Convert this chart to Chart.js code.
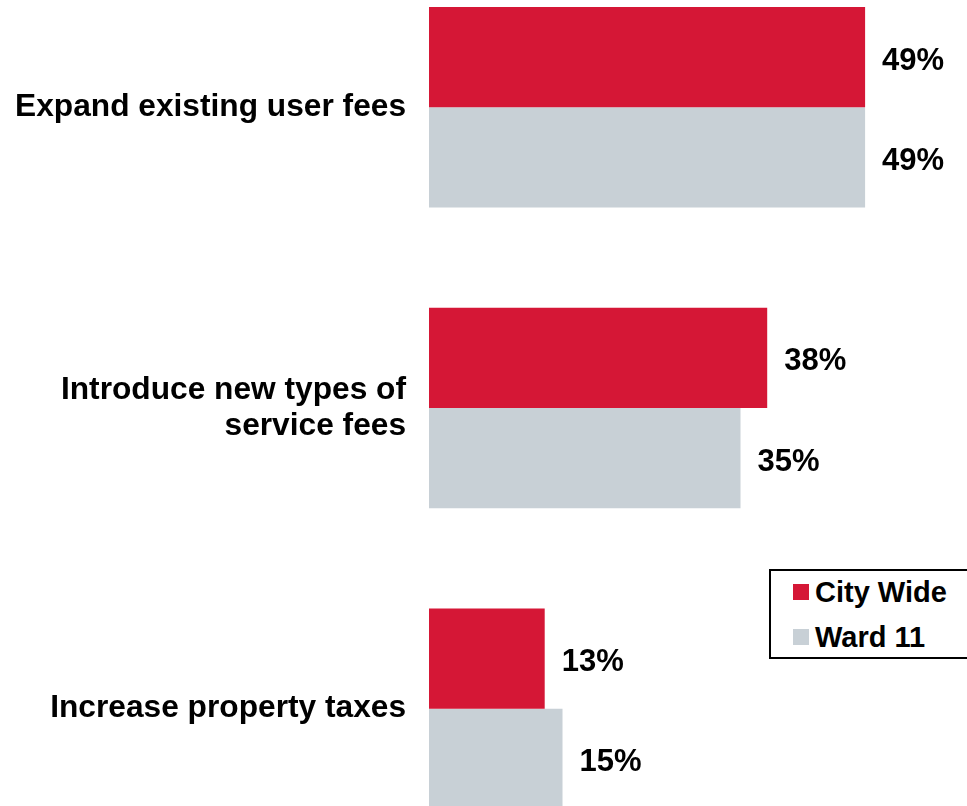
<!DOCTYPE html>
<html>
<head>
<meta charset="utf-8">
<script src="https://cdn.jsdelivr.net/npm/chart.js@4/dist/chart.umd.min.js"></script>
<style>
  html, body { margin:0; padding:0; background:#fff; overflow:hidden; width:967px; height:806px; }
  #wrap { position:absolute; left:0; top:-43px; width:967px; height:902px; }
  #legend { position:absolute; left:769px; top:569px; width:230px; height:86px; border:2px solid #000; background:#fff;
            font-family:"Liberation Sans", Arial, sans-serif; font-weight:bold; font-size:29px; color:#000; }
  .item { position:absolute; left:22px; height:34px; line-height:34px; white-space:nowrap; }
  .sw { display:inline-block; width:16px; height:16px; vertical-align:middle; margin-right:6px; position:relative; top:-2px; }
</style>
</head>
<body>
<div id="wrap"><canvas id="c" width="967" height="902"></canvas></div>
<div id="legend"></div>
<script>
const categories = ["Expand existing user fees", ["Introduce new types of", "service fees"], "Increase property taxes"];
const seriesNames = ["City Wide", "Ward 11"];
const cityWide = [49, 38, 13];
const ward11 = [49, 35, 15];
const colors = ["#D51736", "#C8D0D6"];

const valueLabels = {
  id: 'valueLabels',
  afterDatasetsDraw(chart) {
    const ctx = chart.ctx;
    ctx.save();
    ctx.font = 'bold 31px "Liberation Sans", Arial, sans-serif';
    ctx.fillStyle = '#000';
    ctx.textAlign = 'left';
    ctx.textBaseline = 'middle';
    chart.data.datasets.forEach((ds, i) => {
      const meta = chart.getDatasetMeta(i);
      meta.data.forEach((bar, j) => {
        ctx.fillText(ds.data[j] + '%', bar.x + 17, bar.y + 4);
      });
    });
    ctx.restore();
  }
};

const chart = new Chart(document.getElementById('c'), {
  type: 'bar',
  data: {
    labels: categories,
    datasets: [
      { label: seriesNames[0], data: cityWide, backgroundColor: colors[0] },
      { label: seriesNames[1], data: ward11, backgroundColor: colors[1] }
    ]
  },
  options: {
    indexAxis: 'y',
    responsive: false,
    animation: false,
    events: [],
    layout: { padding: { left: 0, right: 4, top: 0, bottom: 0 } },
    datasets: { bar: { categoryPercentage: 2/3, barPercentage: 1.0, borderWidth: 0 } },
    plugins: { legend: { display: false }, tooltip: { enabled: false } },
    scales: {
      x: { display: false, min: 0, max: 60 },
      y: {
        grid: { display: false, drawTicks: false },
        border: { display: false },
        ticks: {
          color: '#000',
          padding: 23,
          font: { family: '"Liberation Sans", Arial, sans-serif', size: 31.7, weight: 'bold', lineHeight: 1.15 }
        },
        afterFit(scale) { scale.width = 429; scale.paddingTop = 0; scale.paddingBottom = 0; }
      }
    }
  },
  plugins: [valueLabels]
});

const legend = document.getElementById('legend');
chart.data.datasets.forEach((ds, i) => {
  const d = document.createElement('div');
  d.className = 'item';
  d.style.top = (4 + i * 45) + 'px';
  const sw = document.createElement('span');
  sw.className = 'sw';
  sw.style.background = ds.backgroundColor;
  d.appendChild(sw);
  d.appendChild(document.createTextNode(ds.label));
  legend.appendChild(d);
});
</script>
</body>
</html>
